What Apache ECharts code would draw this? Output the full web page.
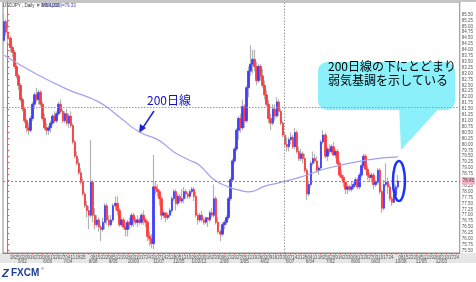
<!DOCTYPE html>
<html><head><meta charset="utf-8">
<script src="https://cdn.jsdelivr.net/npm/echarts@6/dist/echarts.min.js"></script>
<style>html,body{margin:0;padding:0;background:#fff}#c{width:476px;height:282px}</style>
</head><body><div id="c"></div>
<script>
// ---- data: USDJPY daily (2-day candles), x = trading-day index from Mon 11 Apr 2011
const candleStartDay = -3;
const candleStepDays = 2;
const opens = [84.40,85.20,84.75,84.50,84.10,83.90,83.30,82.90,82.50,81.90,81.50,81.00,80.70,80.60,81.10,81.70,82.10,81.90,82.20,81.70,
81.10,80.70,80.60,80.70,80.90,81.20,81.00,81.30,81.70,81.40,81.00,81.30,80.90,81.20,80.80,80.10,79.50,79.20,78.80,78.40,
77.90,77.40,77.20,77.00,78.40,77.00,76.60,76.80,76.50,76.40,76.70,77.40,76.80,76.60,76.80,77.40,77.50,77.20,76.60,76.80,
76.50,76.40,76.70,76.60,77.00,76.80,76.70,76.80,76.70,77.00,76.80,76.70,76.10,76.00,75.80,78.20,78.10,78.00,77.70,77.00,
77.10,76.90,77.00,77.20,77.70,78.00,77.50,77.80,77.60,77.70,78.00,77.90,77.80,78.00,78.10,77.80,77.00,76.80,77.00,76.80,
76.70,76.90,76.80,77.10,77.00,77.70,76.70,76.30,76.20,76.60,76.70,76.90,77.70,78.50,79.30,79.80,80.60,81.10,80.70,81.60,
81.00,82.40,83.10,83.40,83.60,83.30,82.70,83.30,82.90,82.50,82.10,81.70,81.10,80.90,81.50,81.20,81.80,81.40,80.90,80.40,
80.00,79.90,80.20,80.30,79.90,80.50,79.70,79.40,79.60,79.40,78.90,77.90,78.30,79.20,79.40,79.30,78.90,79.00,80.10,80.40,
79.50,79.80,79.70,79.90,79.55,79.70,79.20,78.70,78.60,78.40,78.10,78.20,78.10,78.20,78.30,78.50,78.20,78.70,79.10,79.50,
78.95,78.70,78.60,78.70,78.30,78.40,78.90,78.00,77.30,78.30,78.40,78.20,77.70,77.55,77.85,78.20];
const highs = [85.52,85.30,84.90,84.60,84.20,84.00,83.40,83.00,82.60,82.00,81.60,81.10,80.90,81.20,81.80,82.20,82.40,82.30,82.30,81.80,
81.30,80.90,80.80,81.00,81.30,81.40,81.40,81.80,81.90,81.50,81.40,81.50,81.30,81.40,80.90,80.20,79.70,79.40,79.00,78.60,
78.00,77.60,77.40,80.20,78.50,77.30,77.00,76.90,76.60,76.90,77.50,77.50,77.00,77.00,77.50,77.80,77.80,77.30,76.90,76.90,
76.70,76.80,76.90,77.10,77.10,76.90,77.00,76.90,77.10,77.20,76.90,76.80,76.30,76.20,79.55,78.40,78.30,78.10,77.80,77.20,
77.10,77.10,77.30,77.80,78.10,78.10,77.90,77.90,78.10,78.20,78.10,78.00,78.10,78.20,78.20,78.00,77.10,77.10,77.20,76.90,
76.90,76.90,77.20,77.30,78.30,77.80,76.90,76.40,76.70,76.80,77.00,77.80,78.60,79.40,79.90,80.70,81.20,81.30,81.90,81.70,
82.50,83.30,84.20,84.00,84.00,83.50,83.40,83.40,83.20,82.70,82.30,81.90,81.30,81.70,81.70,82.00,81.90,81.50,81.00,80.50,
80.30,80.30,80.50,80.40,80.70,80.60,79.90,79.80,79.70,79.60,79.00,78.40,79.30,79.70,79.60,79.50,79.10,80.20,80.60,80.50,
79.90,80.00,80.00,80.10,79.80,79.80,79.30,78.90,78.70,78.40,78.30,78.30,78.40,78.40,78.60,78.60,78.80,79.20,79.60,79.60,
79.10,78.80,78.80,78.80,78.50,79.00,79.00,78.10,78.50,79.20,78.60,78.30,77.80,77.90,78.30,78.70];
const lows = [84.30,84.60,84.30,83.90,83.70,83.20,82.80,82.30,81.80,81.40,80.90,80.50,80.40,80.50,81.00,81.50,81.80,81.70,81.60,81.00,
80.60,80.40,80.40,80.50,80.80,80.90,80.90,81.20,81.30,80.90,80.90,80.80,80.70,80.70,80.00,79.40,79.10,78.70,78.30,77.80,
77.30,76.90,76.40,76.90,76.70,76.40,76.50,76.30,75.90,76.30,76.40,76.60,76.50,76.50,76.70,77.20,77.00,76.50,76.50,76.40,
76.10,76.10,76.40,76.50,76.50,76.60,76.50,76.60,76.60,76.60,76.50,75.90,75.70,75.60,75.56,77.90,77.80,77.40,76.80,76.90,
76.70,76.80,76.90,77.10,77.60,77.20,77.40,77.50,77.50,77.50,77.70,77.70,77.70,77.90,77.60,76.90,76.60,76.70,76.70,76.60,
76.60,76.50,76.70,76.90,76.90,76.60,76.20,75.90,76.10,76.40,76.60,76.80,77.60,78.40,79.20,79.70,80.20,80.50,80.60,80.70,
80.90,82.00,82.90,83.00,83.10,82.50,82.60,82.70,82.40,81.90,81.60,80.90,80.60,80.80,81.00,81.10,81.20,80.80,80.30,79.90,
79.70,79.70,80.00,79.80,79.80,79.60,79.30,79.30,79.20,78.80,77.65,77.80,78.20,79.10,79.20,78.80,78.70,78.90,80.00,79.40,
79.30,79.60,79.60,79.50,79.40,79.10,78.60,78.50,78.20,77.90,77.90,78.00,78.00,78.10,78.20,78.10,78.10,78.60,79.00,78.90,
78.50,78.40,78.40,78.10,78.20,78.30,77.90,77.10,77.20,78.20,77.90,77.60,77.40,77.50,77.80,78.10];
const closes = [85.20,84.75,84.50,84.10,83.90,83.30,82.90,82.50,81.90,81.50,81.00,80.70,80.60,81.10,81.70,82.10,81.90,82.20,81.70,81.10,
80.70,80.60,80.70,80.90,81.20,81.00,81.30,81.70,81.40,81.00,81.30,80.90,81.20,80.80,80.10,79.50,79.20,78.80,78.40,77.90,
77.40,77.20,77.00,78.40,77.00,76.60,76.80,76.50,76.40,76.70,77.40,76.80,76.60,76.80,77.40,77.50,77.20,76.60,76.80,76.50,
76.40,76.70,76.60,77.00,76.80,76.70,76.80,76.70,77.00,76.80,76.70,76.10,76.00,75.80,78.20,78.10,78.00,77.70,77.00,77.10,
76.90,77.00,77.20,77.70,78.00,77.50,77.80,77.60,77.70,78.00,77.90,77.80,78.00,78.10,77.80,77.00,76.80,77.00,76.80,76.70,
76.90,76.80,77.10,77.00,77.70,76.70,76.30,76.20,76.60,76.70,76.90,77.70,78.50,79.30,79.80,80.60,81.10,80.70,81.60,81.00,
82.40,83.10,83.40,83.60,83.30,82.70,83.30,82.90,82.50,82.10,81.70,81.10,80.90,81.50,81.20,81.80,81.40,80.90,80.40,80.00,
79.90,80.20,80.30,79.90,80.50,79.70,79.40,79.60,79.40,78.90,77.90,78.30,79.20,79.40,79.30,78.90,79.00,80.10,80.40,79.50,
79.80,79.70,79.90,79.55,79.70,79.20,78.70,78.60,78.40,78.10,78.20,78.10,78.20,78.30,78.50,78.20,78.70,79.10,79.50,78.95,
78.70,78.60,78.70,78.30,78.40,78.90,78.00,77.30,78.30,78.40,78.20,77.70,77.55,77.85,78.20,78.45];
// 200-day moving average (trading-day index, value)
const maDays =   [-3,   22,   59,   91,   111,  131,  150,  165,  180,  190,  205,  219,  229,  239,  256,  269,  288,  318,  357,  387];
const maValues = [83.77,83.14,82.34,81.79,81.16,80.52,80.18,79.68,79.34,79.13,78.50,78.20,78.07,77.99,78.24,78.37,78.58,79.00,79.34,79.47];
// axis ticks
const dayLabels = ["11","18","25","02","09","16","23","30","06","13","20","27","04","11","18","25","","08","15","22","29",
"05","12","19","26","03","10","17","24","31","07","14","21","28","05","12","19","26","02","09","16","23","30",
"06","13","20","27","05","12","19","26","02","09","16","23","30","07","14","21","28","04","11","18","25",
"02","09","16","23","30","06","13","20","27","03","10","17","24","","08","15","22","29","05","12","19","26","03","10","17","24"];
const monthLabelWeeks = [0,3,8,12,17,21,25,30,34,38,43,47,51,56,60,64,69,73,78,82,86];
const monthLabels = ["4/11/11","5/02","6/06","7/04","8/08","9/05","10/03","11/07","12/05","1/02/12","2/06","3/05","4/02","5/07","6/04","7/02","8/06","9/03","10/08","11/05","12/03"];
const priceTicks = [75.50,75.75,76.00,76.25,76.50,76.75,77.00,77.25,77.50,77.75,78.00,78.25,78.50,78.75,79.00,79.25,79.50,79.75,
80.00,80.25,80.50,80.75,81.00,81.25,81.50,81.75,82.00,82.25,82.50,82.75,83.00,83.25,83.50,83.75,84.00,84.25,84.50,84.75,85.00,85.25,85.50];
const gridLinePrice = 81.58;
const gridLineDay = 274;
const titleText = "USDJPY , Daily  # 085/1000";
const titleMA = "MVA(200)=79.33";

// ---- build
const candleX = opens.map((_, i) => candleStartDay + i * candleStepDays);
const fullCandles = opens.map((o, i) => [candleX[i], o, closes[i], lows[i], highs[i]]);
const bodyCandles = opens.map((o, i) => [candleX[i], o, closes[i], Math.min(o, closes[i]), Math.max(o, closes[i])]);
const lastPrice = closes[closes.length - 1];
const weekTicks = dayLabels.map((_, w) => w * 5);
const monthAt = {};
monthLabelWeeks.forEach((w, i) => { monthAt[w * 5] = monthLabels[i]; });

const chart = echarts.init(document.getElementById('c'), null, {renderer: 'canvas'});
const axisFont = {fontFamily: 'Arial, "Liberation Sans", sans-serif', fontSize: 4.5, color: '#555'};
chart.setOption({
  animation: false,
  grid: {left: 3, right: 14, top: 2, bottom: 29, show: true, backgroundColor: '#fff', borderColor: '#8a8a8a', borderWidth: 1},
  xAxis: {
    type: 'value', min: -4.2, max: 448.2,
    axisLine: {show: true, lineStyle: {color: '#8a8a8a'}},
    axisTick: {show: true, customValues: weekTicks, length: 1.5, lineStyle: {color: '#e05050'}},
    axisLabel: Object.assign({customValues: weekTicks, margin: 2, lineHeight: 4.8,
      formatter: v => { const w = Math.round(v / 5); return dayLabels[w] + (monthAt[v] ? '\n' + monthAt[v] : ''); }}, axisFont),
    splitLine: {show: false}
  },
  yAxis: {
    type: 'value', position: 'right', min: 75.4, max: 86.03,
    axisLine: {show: true, lineStyle: {color: '#8a8a8a'}},
    axisTick: {show: true, customValues: priceTicks, length: 2, lineStyle: {color: '#e05050'}},
    axisLabel: Object.assign({customValues: priceTicks, margin: 2, formatter: v => v.toFixed(2)}, axisFont),
    splitLine: {show: false}
  },
  series: [
    {type: 'candlestick', data: fullCandles, barWidth: 1, z: 2,
      itemStyle: {color: '#c4c4c4', color0: '#c4c4c4', borderColor: '#b4b4b4', borderColor0: '#b4b4b4', borderWidth: 1.2},
      markLine: {silent: true, symbol: 'none', animation: false,
        data: [
          {yAxis: gridLinePrice, lineStyle: {color: '#9a9a9a', type: [1.5, 1.5], width: 1}, label: {show: false}},
          {xAxis: gridLineDay, lineStyle: {color: '#9a9a9a', type: [1.5, 1.5], width: 1}, label: {show: false}},
          {yAxis: lastPrice, lineStyle: {color: '#7a7ae8', type: [2, 2], width: 1},
            label: {show: true, position: 'end', distance: 2, formatter: lastPrice.toFixed(2), backgroundColor: '#f4b4c4',
              color: '#444', fontSize: 4.5, padding: [1, 1], fontFamily: 'Arial'}}
        ]}
    },
    {type: 'candlestick', data: bodyCandles, barWidth: 2, z: 3,
      itemStyle: {color: '#3d3dff', color0: '#ff3a3a', borderColor: '#3d3dff', borderColor0: '#ff3a3a', borderWidth: 0.8}},
    {type: 'line', data: maDays.map((d, i) => [d, maValues[i]]), smooth: true, showSymbol: false, z: 4,
      lineStyle: {color: '#a0a0f2', width: 1.2}}
  ],
  graphic: [
    {type: 'rect', z: -10, shape: {x: 0, y: 253, width: 476, height: 10}, style: {fill: '#e6e6e6'}},
    {type: 'rect', shape: {x: 0, y: 0, width: 476, height: 2}, style: {fill: '#c4c4c4'}},
    {type: 'text', x: 3, y: 3, style: {text: titleText, fontSize: 4.5, fill: '#333', fontFamily: 'Arial'}},
    {type: 'text', x: 42, y: 3, style: {text: titleMA, fontSize: 4.5, fill: '#3b3bd0', fontFamily: 'Arial'}},
    // callout
    {type: 'polygon', shape: {points: [[399, 104], [443, 104], [401, 150]]}, style: {fill: '#8cf0fa'}},
    {type: 'rect', shape: {x: 318, y: 62, width: 137, height: 48, r: 9}, style: {fill: '#8cf0fa'}},
    {type: 'text', x: 328, y: 73, style: {text: '200日線の下にとどまり\n弱気基調を示している', fontSize: 12, lineHeight: 14,
      fill: '#000', fontFamily: '"Noto Sans CJK JP", sans-serif', verticalAlign: 'middle'}},
    // 200日線 label + arrow
    {type: 'text', x: 145, y: 93, style: {text: '200日線', fontSize: 12, fill: '#1010c8', backgroundColor: '#fff', padding: [1, 2],
      fontFamily: '"Noto Sans CJK JP", sans-serif'}},
    {type: 'line', shape: {x1: 154, y1: 111, x2: 142, y2: 129}, style: {stroke: '#2222cc', lineWidth: 1.5}},
    {type: 'polygon', shape: {points: [[139, 133], [140, 124], [146, 128]]}, style: {fill: '#2222cc'}},
    // logo
    {type: 'text', x: 2, y: 268, style: {text: 'Z', fontSize: 11, fontWeight: 'bold', fontStyle: 'italic', fill: '#1c3f94', fontFamily: 'Arial'}},
    {type: 'text', x: 11, y: 268, style: {text: 'FXCM', fontSize: 10, fontWeight: 'bold', fill: '#1c3f94', fontFamily: 'Arial'}},
    {type: 'text', x: 41, y: 267, style: {text: '®', fontSize: 4, fill: '#1c3f94', fontFamily: 'Arial'}}
  ]
});
// ellipse around the latest candles
const p = chart.convertToPixel({gridIndex: 0}, [candleX[candleX.length - 1] + 1, lastPrice]);
chart.setOption({graphic: [{type: 'ellipse', id: 'ring', shape: {cx: p[0], cy: p[1], rx: 6, ry: 20},
  style: {fill: 'none', stroke: '#1a33ff', lineWidth: 2.5}, z: 20}]});
</script></body></html>
